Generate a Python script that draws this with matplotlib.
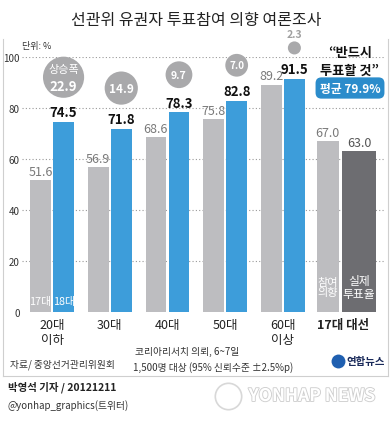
import matplotlib.pyplot as plt
import matplotlib.patheffects as pe
from matplotlib.lines import Line2D
import numpy as np

plt.rcParams['font.family'] = ['Noto Sans CJK KR', 'DejaVu Sans']

# data
groups = ['20대\n이하', '30대', '40대', '50대', '60대\n이상']
vote17 = [51.6, 56.9, 68.6, 75.8, 89.2]   # 17대 대선 때 참여 의향
vote18 = [74.5, 71.8, 78.3, 82.8, 91.5]   # 18대 (이번 조사)
elec_labels = ['참여\n의향', '실제\n투표율']
elec_values = [67.0, 63.0]
average = 79.9

GRAY = '#bdbdc0'
BLUE = '#3d9dda'
DARK = '#6d6d71'
BUBBLE = '#a9a9ab'

W, H = 392, 435
fig = plt.figure(figsize=(W / 100, H / 100), dpi=100)


def fx(px):
    return px / W


def fy(py):
    return 1 - py / H


ax = fig.add_axes([fx(22), fy(313), fx(385) - fx(22), fy(58) - fy(313)])
ax.set_xlim(-0.52, 5.77)
ax.set_ylim(0, 100)

x = np.arange(len(groups))
v17 = np.array(vote17)
v18 = np.array(vote18)

ax.bar(x - 0.2, v17, 0.36, color=GRAY, zorder=2)
ax.bar(x + 0.2, v18, 0.36, color=BLUE, zorder=2)

for xi, a, b in zip(x, v17, v18):
    ax.text(xi - 0.2, a + 0.8, f'{a:.1f}', ha='center', va='bottom',
            color='#7a7a7a', fontsize=9)
    ax.text(xi + 0.2, b + 1.0, f'{b:.1f}', ha='center', va='bottom',
            color='#111111', fontsize=9.5, weight='bold')

ax.text(-0.2, 4.3, '17대', ha='center', va='center', color='white', fontsize=7.8)
ax.text(0.2, 4.3, '18대', ha='center', va='center', color='white', fontsize=7.8)

# bubbles showing the increase
diff = v18 - v17
r_px = 4.3 * np.sqrt(diff)
cy = v18 + 9.5 + r_px * 100 / 255
ax.scatter(x + 0.2, cy, s=(2 * r_px * 0.72) ** 2, color=BUBBLE,
           linewidths=0, clip_on=False, zorder=3)
for i, d in enumerate(diff):
    if i == 0:
        ax.annotate('상승폭', (x[i] + 0.2, cy[i]), xytext=(0, 6), textcoords='offset points',
                    ha='center', va='center', color='white', fontsize=8, zorder=4)
        ax.annotate(f'{d:.1f}', (x[i] + 0.2, cy[i]), xytext=(0, -6), textcoords='offset points',
                    ha='center', va='center', color='white', fontsize=9.5, weight='bold', zorder=4)
    elif d < 5:
        ax.text(x[i] + 0.2, cy[i] + r_px[i] * 100 / 255 + 0.8, f'{d:.1f}', ha='center',
                va='bottom', color='#a0a0a0', fontsize=7.5, weight='bold')
    else:
        ax.text(x[i] + 0.2, cy[i], f'{d:.1f}', ha='center', va='center', color='white',
                fontsize=6 + d / 6, weight='bold', zorder=4)

# 17대 대선
xe = 5.05
ax.bar(xe - 0.27, elec_values[0], 0.38, color=GRAY, zorder=2)
ax.bar(xe + 0.27, elec_values[1], 0.6, color=DARK, zorder=2)
ax.text(xe - 0.27, elec_values[0] + 1.0, f'{elec_values[0]:.1f}', ha='center', va='bottom',
        color='#7a7a7a', fontsize=9)
ax.text(xe + 0.27, elec_values[1] + 1.0, f'{elec_values[1]:.1f}', ha='center', va='bottom',
        color='#555555', fontsize=9)
ax.text(xe - 0.27, 9.8, elec_labels[0], ha='center', va='center', color='white',
        fontsize=8, linespacing=1.05)
ax.text(xe + 0.27, 9.8, elec_labels[1], ha='center', va='center', color='white',
        fontsize=8.5, linespacing=1.05)

# axes styling
ax.set_yticks([0, 20, 40, 60, 80, 100])
ax.yaxis.grid(True, linestyle=(0, (1, 2)), color='#999999', lw=0.8)
ax.yaxis.get_gridlines()[0].set_visible(False)
ax.set_axisbelow(True)
ax.tick_params(axis='y', length=0, pad=1.5, labelsize=7, labelcolor='#333333')
ax.set_xticks(list(x) + [xe], groups + ['17대 대선'])
ax.tick_params(axis='x', length=0, pad=4, labelsize=9, labelcolor='#222222')
ax.get_xticklabels()[-1].set_fontweight('bold')
for s in ax.spines.values():
    s.set_visible(False)

# titles and notes
fig.text(0.5, fy(20), '선관위 유권자 투표참여 의향 여론조사', ha='center', va='center',
         fontsize=11.5, color='#222222')
fig.text(fx(22), fy(47), '단위: %', va='center', fontsize=6.5, color='#333333')
fig.text(fx(350), fy(62), '“반드시\n투표할 것”', ha='center', va='center', fontsize=9.5,
         weight='bold', linespacing=1.3, color='#111111')
fig.text(fx(350), fy(89), f'평균 {average}%', ha='center', va='center', fontsize=8.5,
         weight='bold', color='white',
         bbox=dict(boxstyle='round,pad=0.35,rounding_size=0.5', fc='#2b8ccb', ec='none'))

fig.text(fx(10), fy(365), '자료/ 중앙선거관리위원회', va='center', fontsize=7,
         style='italic', color='#333333')
fig.text(fx(135), fy(352), '코리아리서치 의뢰, 6~7일', va='center', fontsize=7,
         style='italic', color='#333333')
fig.text(fx(133), fy(368), '1,500명 대상 (95% 신뢰수준 ±2.5%p)', va='center', fontsize=7,
         style='italic', color='#333333')

# yonhap logo
fig.add_artist(Line2D([fx(338)], [fy(362)], marker='o', markersize=10, mfc='#1f5fb0',
                      mec='none', transform=fig.transFigure))
fig.text(fx(346), fy(362), '연합뉴스', va='center', fontsize=7.5, weight='bold',
         color='#1a2a5a')

# panel border
for xs, ys in [([3, 3], [40, 377]), ([3, 388], [377, 377]), ([388, 388], [40, 377])]:
    fig.add_artist(Line2D([fx(v) for v in xs], [fy(v) for v in ys], color='#cfcfcf',
                          lw=0.8, transform=fig.transFigure))

fig.text(fx(8), fy(387), '박영석 기자 / 20121211', va='center', fontsize=7.5,
         weight='bold', color='#222222')
fig.text(fx(8), fy(406), '@yonhap_graphics(트위터)', va='center', fontsize=7,
         color='#333333')

# watermark
fig.add_artist(Line2D([fx(228)], [fy(397)], marker='o', markersize=19, mfc='white',
                      mec='#d8d8d8', mew=1.2, transform=fig.transFigure))
fig.text(fx(312), fy(397), 'YONHAP NEWS', ha='center', va='center', fontsize=12.5,
         weight='bold', color='white',
         path_effects=[pe.withStroke(linewidth=1.3, foreground='#cfcfcf')])

fig.savefig('out.png', dpi=100, facecolor='white')
